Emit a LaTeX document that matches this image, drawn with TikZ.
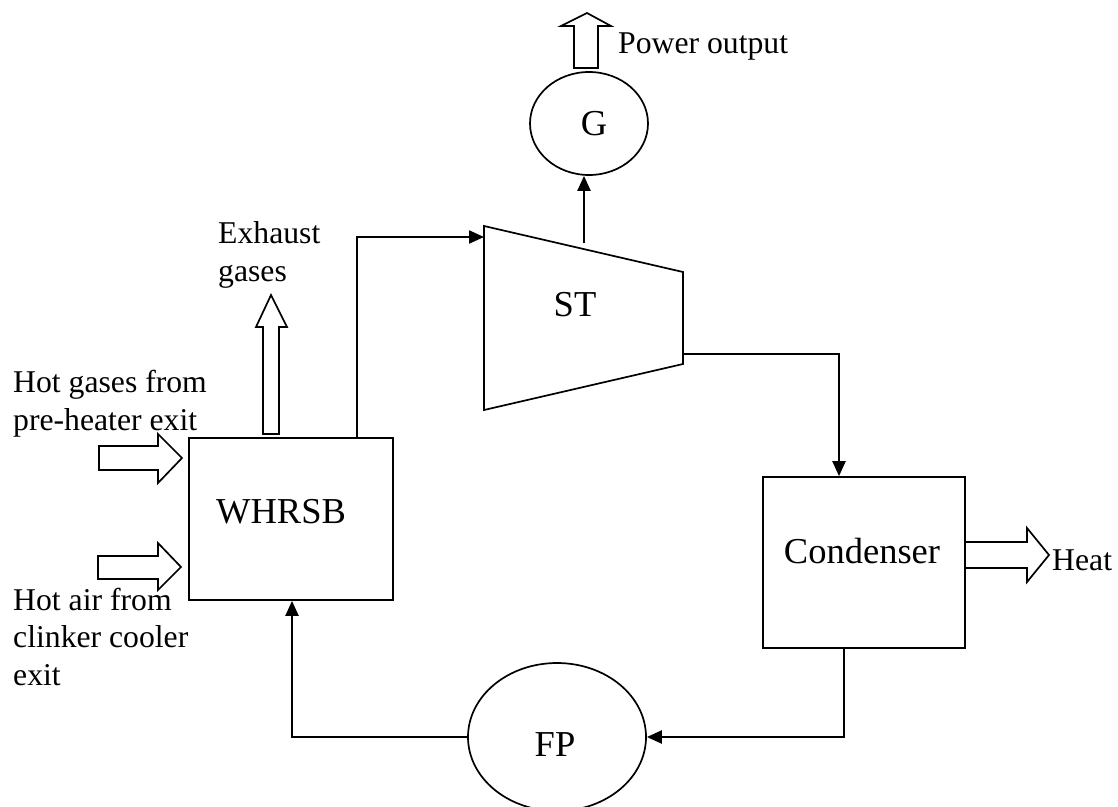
\documentclass[tikz,border=0pt]{standalone}
\usepackage{fontspec}
\setmainfont{Liberation Serif}
\usetikzlibrary{arrows.meta,shapes.geometric,calc}
\tikzset{
  unitbox/.style={draw,line width=1.7pt,inner sep=0pt},
  bigtext/.style={font=\fontsize{36.5}{40}\selectfont},
  smalltext/.style={font=\fontsize{31.7}{37.5}\selectfont,align=left,inner sep=0pt,anchor=base west},
  flow/.style={line width=2.2pt,-{Triangle[length=15pt,width=13pt]}},
  hollow/.style={draw,line width=1.7pt,fill=white,line join=miter},
}
\begin{document}
\begin{tikzpicture}[x=1pt,y=-1pt]
\useasboundingbox (0,0) rectangle (1118,806);
% components
\node[unitbox,ellipse,minimum width=118pt,minimum height=103pt,
      label={[bigtext,xshift=5pt]center:G}] (g) at (589,123.5) {};
\draw[line width=1.7pt,line join=miter] (484,226) -- (683,272) -- (683,364) -- (484,410) -- cycle;
\node[bigtext,inner sep=0pt] (st) at (575,305) {ST};
\coordinate (stin) at (484,237);
\coordinate (sttop) at (584,243);
\coordinate (stout) at (683,354);
\node[unitbox,rectangle,minimum width=204pt,minimum height=162pt,
      label={[bigtext,xshift=-10pt,yshift=7pt]center:WHRSB}] (whrsb) at (291,519) {};
\node[unitbox,rectangle,minimum width=202pt,minimum height=171pt,
      label={[bigtext,xshift=-2pt,yshift=11pt]center:Condenser}] (cond) at (864,562.5) {};
\node[unitbox,ellipse,minimum width=178pt,minimum height=148pt,
      label={[bigtext,xshift=-2pt,yshift=-7.5pt]center:FP}] (fp) at (557,737) {};
% bend points
\coordinate (b1) at (357,237);
\coordinate (b2) at (839,354);
\coordinate (b3) at (844,737);
\coordinate (b4) at (292,737);
% connectors
\draw[flow] (whrsb.north -| b1) -- (b1) -- (stin);
\draw[flow] (sttop) -- (sttop |- g.south);
\draw[flow] (stout) -- (b2) -- (b2 |- cond.north);
\draw[flow] (cond.south -| b3) -- (b3) -- (fp.east);
\draw[flow] (fp.west) -- (b4) -- (b4 |- whrsb.south);
% hollow arrows
\draw[hollow] (574,68) -- (574,26) -- (561,26) -- (587,13) -- (611,26) -- (598,26) -- (598,68) -- cycle;
\draw[hollow] (263,434) -- (263,327) -- (256,327) -- (271,295) -- (287,327) -- (279,327) -- (279,434) -- cycle;
\draw[hollow] (99,446) -- (158,446) -- (158,434) -- (182,458) -- (158,483) -- (158,470) -- (99,470) -- cycle;
\draw[hollow] (98,556) -- (158,556) -- (158,543) -- (181,567) -- (158,590) -- (158,579) -- (98,579) -- cycle;
\draw[hollow] (965,542) -- (1027,542) -- (1027,528) -- (1049,555) -- (1027,582) -- (1027,568) -- (965,568) -- cycle;
% labels (base west = baseline of the last line)
\node[smalltext] (tpower) at (618,53) {Power output};
\node[smalltext] (texh) at (218,281) {Exhaust\\gases};
\node[smalltext] (thot) at (13,430) {Hot gases from\\pre-heater exit};
\node[smalltext] (tair) at (13,685) {Hot air from\\clinker cooler\\exit};
\node[smalltext] (theat) at (1052,570) {Heat};
\end{tikzpicture}
\end{document}
